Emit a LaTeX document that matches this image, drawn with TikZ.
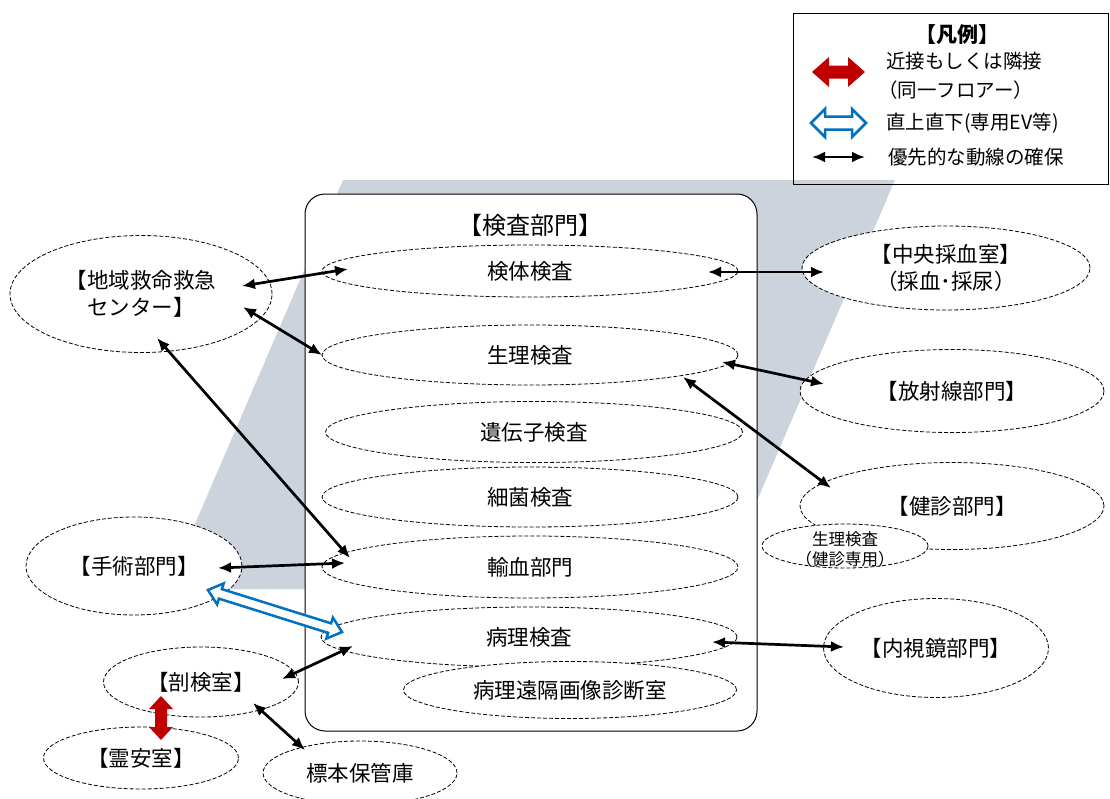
\documentclass[tikz,border=0pt]{standalone}
\usepackage{fontspec}
\setmainfont{Noto Sans CJK JP}
\usetikzlibrary{shapes.geometric,arrows.meta,calc}
\definecolor{graybg}{RGB}{205,211,221}
\definecolor{evblue}{RGB}{0,112,192}
\definecolor{adjred}{RGB}{192,0,0}
\newcommand\dblarr[6]{%
  \coordinate (h1) at ($(#2)!#4!(#3)$);
  \coordinate (h2) at ($(#3)!#4!(#2)$);
  \path[#1] (#2) -- ($(h1)!#5!90:(#3)$) -- ($(h1)!#6!90:(#3)$)
    -- ($(h2)!#6!-90:(#2)$) -- ($(h2)!#5!-90:(#2)$) -- (#3)
    -- ($(h2)!#5!90:(#2)$) -- ($(h2)!#6!90:(#2)$)
    -- ($(h1)!#6!-90:(#3)$) -- ($(h1)!#5!-90:(#3)$) -- cycle;}
\begin{document}
\begin{tikzpicture}[x=1pt,y=-1pt,
  ell/.style={ellipse, draw, dash pattern=on 4pt off 2pt, fill=white, inner sep=0pt,
    line width=0.8pt, font=\fontsize{21.5}{27}\selectfont, align=center},
  flow/.style={{Latex[length=13pt,width=11pt]}-{Latex[length=13pt,width=11pt]}, line width=2.7pt},
  lgtext/.style={anchor=west, font=\fontsize{19.5}{24}\selectfont, inner sep=0pt}]
\useasboundingbox (0,0) rectangle (1110,798);
% gray band
\fill[graybg] (343,180) -- (895,180) -- (719,589) -- (167,589) -- cycle;
% legend
\node[draw, line width=1pt, minimum width=315, minimum height=171, inner sep=0pt] (legend) at (950.5,98.5) {};
\node[font=\fontsize{21}{24}\selectfont\bfseries] (lgtitle) at (957,35) {【凡例】};
\coordinate (lr1) at (812,72); \coordinate (lr2) at (865,72);
\dblarr{fill=adjred}{lr1}{lr2}{17pt}{15pt}{6.5pt}
\node[lgtext] (lt1) at (886,61) {近接もしくは隣接};
\node[lgtext] (lt2) at (878,90) {（同一フロアー）};
\coordinate (lb1) at (811,123); \coordinate (lb2) at (866,123);
\dblarr{draw=evblue, line width=2.5pt, fill=white, line join=miter}{lb1}{lb2}{14pt}{14pt}{6.5pt}
\node[lgtext] (lt3) at (886,123) {直上直下(専用EV等)};
\coordinate (lk1) at (812,157); \coordinate (lk2) at (865,157);
\draw[flow] (lk1) -- (lk2);
\node[lgtext] (lt4) at (888,157) {優先的な動線の確保};
% main box
\node[draw, line width=1pt, rounded corners=20pt, fill=white, minimum width=452, minimum height=537, inner sep=0pt] (kensa) at (531,462.5) {};
\node[font=\fontsize{24}{28}\selectfont] (kensatitle) at (530,225) {【検査部門】};
% ellipses inside
\node[ell, minimum width=416, minimum height=52] (kentai) at (530,271) {検体検査};
\node[ell, minimum width=416, minimum height=60] (seiri) at (530,355) {生理検査};
\node[ell, minimum width=417, minimum height=61] (idenshi) at (534,432) {遺伝子検査};
\node[ell, minimum width=416, minimum height=60] (saikin) at (530,497) {細菌検査};
\node[ell, minimum width=416, minimum height=62] (yuketsu) at (530,567) {輸血部門};
\node[ell, minimum width=416, minimum height=60] (byori) at (529,637) {病理検査};
\node[ell, minimum width=333, minimum height=57] (enkaku) at (570,690) {病理遠隔画像診断室};
% outside ellipses
\node[ell, minimum width=262, minimum height=117] (chiiki) at (141,294) {【地域救命救急\\センター】};
\node[ell, minimum width=288, minimum height=84] (chuo) at (946,268) {【中央採血室】\\（採血･採尿）};
\node[ell, minimum width=304, minimum height=83] (hosha) at (952,391) {【放射線部門】};
\node[ell, minimum width=304, minimum height=87] (kenshin) at (952,506) {【健診部門】};
\node[ell, minimum width=166, minimum height=44] (kenshin2) at (845,546) {};
\node[font=\fontsize{16.5}{20}\selectfont, align=center, inner sep=0pt] (kenshin2t) at (845,549) {生理検査\\（健診専用）};
\node[ell, minimum width=225, minimum height=99] (naishi) at (936,648) {【内視鏡部門】};
\node[ell, minimum width=216, minimum height=98] (shujutsu) at (134,566) {【手術部門】};
\node[ell, minimum width=195, minimum height=70] (boken) at (201,682) {【剖検室】};
\node[ell, minimum width=195, minimum height=62] (reian) at (141,758) {【霊安室】};
\node[ell, minimum width=194, minimum height=64] (hyohon) at (360,773) {標本保管庫};
% connector end points
\coordinate (a1) at (242,286); \coordinate (b1) at (348,269);
\coordinate (a2) at (243,307); \coordinate (b2) at (322,355);
\coordinate (a3) at (157,338); \coordinate (b3) at (350,558);
\coordinate (a4) at (218,568); \coordinate (b4) at (345,563);
\coordinate (a5) at (282,679); \coordinate (b5) at (353,646);
\coordinate (a6) at (253,703); \coordinate (b6) at (305,750);
\coordinate (a7) at (708,272); \coordinate (b7) at (824,272);
\coordinate (a8) at (722,362); \coordinate (b8) at (824,384);
\coordinate (a9) at (683,377); \coordinate (b9) at (831,488);
\coordinate (a10) at (712,642); \coordinate (b10) at (844,647);
\draw[flow] (a1) -- (b1);
\draw[flow] (a2) -- (b2);
\draw[flow] (a3) -- (b3);
\draw[flow] (a4) -- (b4);
\draw[flow] (a5) -- (b5);
\draw[flow] (a6) -- (b6);
\draw[flow] (a7) -- (b7);
\draw[flow] (a8) -- (b8);
\draw[flow] (a9) -- (b9);
\draw[flow] (a10) -- (b10);
% blue EV arrow
\coordinate (ev1) at (208,590); \coordinate (ev2) at (342,632);
\dblarr{draw=evblue, line width=2.5pt, fill=white, line join=miter}{ev1}{ev2}{13pt}{11pt}{5pt}
% red adjacency arrow
\coordinate (rd1) at (161,696); \coordinate (rd2) at (161,740);
\dblarr{fill=adjred}{rd1}{rd2}{13pt}{12pt}{6pt}
\end{tikzpicture}
\end{document}
